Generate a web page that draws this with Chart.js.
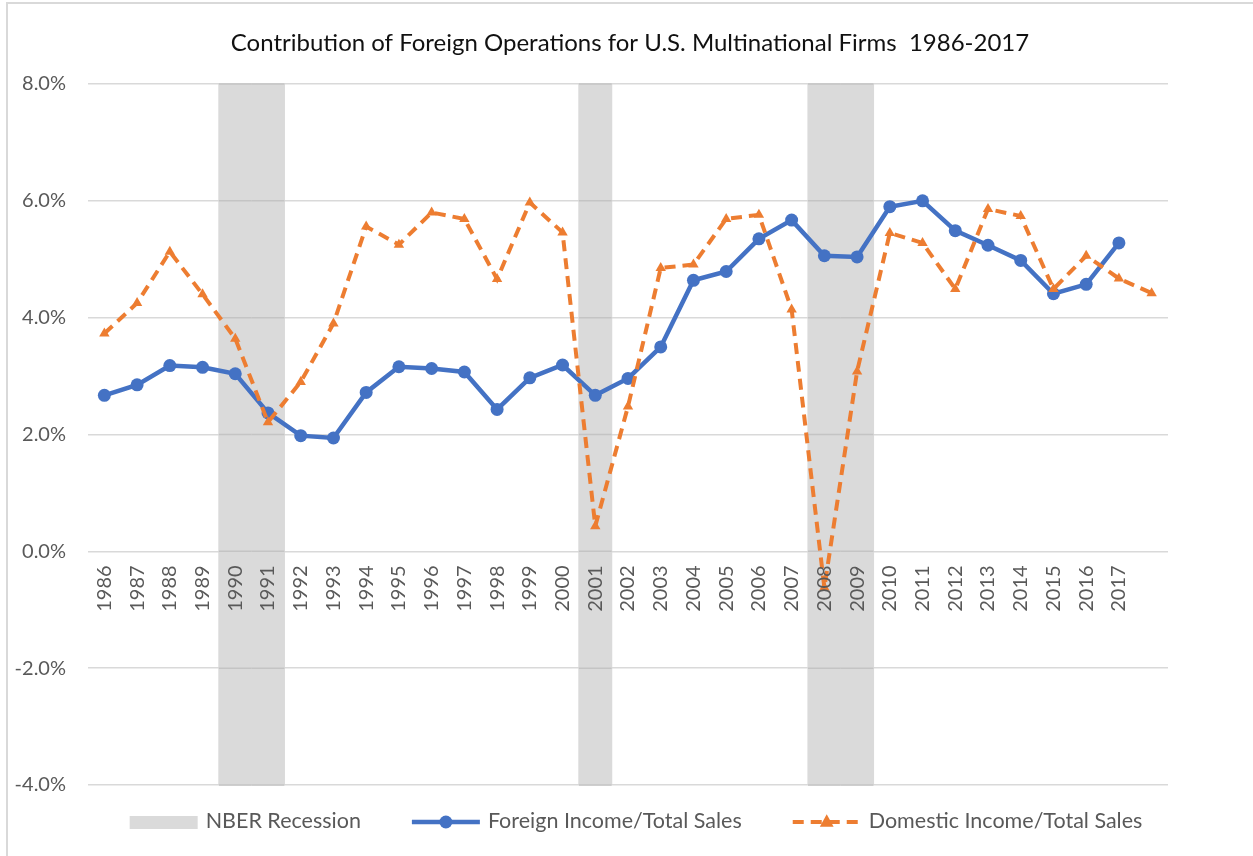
<!DOCTYPE html>
<html>
<head>
<meta charset="utf-8">
<script src="https://cdn.jsdelivr.net/npm/chart.js@4.4.1/dist/chart.umd.min.js"></script>
<style>
html,body{margin:0;padding:0;background:#fff;}
#wrap{width:1253px;height:856px;position:relative;}
canvas{display:block;}
</style>
</head>
<body>
<div id="wrap"><canvas id="c" width="1253" height="856"></canvas></div>
<script>
const chartTitle = 'Contribution of Foreign Operations for U.S. Multinational Firms  1986-2017';
const seriesNames = ['NBER Recession', 'Foreign Income/Total Sales', 'Domestic Income/Total Sales'];
const categories = ['1986','1987','1988','1989','1990','1991','1992','1993','1994','1995','1996',
  '1997','1998','1999','2000','2001','2002','2003','2004','2005','2006','2007','2008','2009',
  '2010','2011','2012','2013','2014','2015','2016','2017',''];
const recession = [0,0,0,0,1,1,0,0,0,0,0,0,0,0,0,1,0,0,0,0,0,0,1,1,0,0,0,0,0,0,0,0,0];
const foreign = [2.67,2.85,3.18,3.15,3.04,2.37,1.98,1.94,2.72,3.16,3.13,3.07,2.43,2.97,3.19,
  2.67,2.96,3.50,4.64,4.79,5.35,5.67,5.06,5.04,5.90,6.00,5.49,5.24,4.98,4.41,4.57,5.28,null];
const domestic = [3.73,4.25,5.13,4.40,3.64,2.21,2.90,3.90,5.56,5.25,5.80,5.69,4.66,5.97,5.46,
  0.43,2.48,4.85,4.91,5.69,5.76,4.14,-0.62,3.08,5.45,5.28,4.49,5.86,5.74,4.49,5.06,4.67,4.42];
const yTicks = [-4,-2,0,2,4,6,8];

const yMin = yTicks[0], yMax = yTicks[yTicks.length-1];
const recessionBars = recession.map(f => f ? [yMin, yMax] : null);

const BLUE = '#4472C4', ORANGE = '#ED7D31', GREY = '#dadada';
const FONT = 'Lato';

const decor = {
  id: 'decor',
  beforeDraw(chart) {
    const ctx = chart.ctx;
    ctx.save();
    ctx.strokeStyle = '#d9d9d9';
    ctx.lineWidth = 2;
    ctx.beginPath();
    ctx.moveTo(7, 856); ctx.lineTo(7, 3); ctx.lineTo(1253, 3);
    ctx.stroke();
    ctx.restore();
  },
  beforeDatasetDraw(chart, args) {
    if (args.index !== 1) return;
    // gridlines faintly visible through the recession shading (drawn after the bars, before the lines)
    const ctx = chart.ctx, ys = chart.scales.y, xs = chart.scales.x;
    const half = (xs.getPixelForValue(1) - xs.getPixelForValue(0)) / 2;
    ctx.save();
    ctx.strokeStyle = '#c4c4c4';
    ctx.lineWidth = 1.5;
    recession.forEach((f, i) => {
      if (!f) return;
      const cx = xs.getPixelForValue(i);
      yTicks.forEach(v => {
        const y = ys.getPixelForValue(v);
        ctx.beginPath(); ctx.moveTo(cx - half, y); ctx.lineTo(cx + half, y); ctx.stroke();
      });
    });
    ctx.restore();
  },
  afterDraw(chart) {
    const ctx = chart.ctx;
    ctx.save();
    // title
    ctx.fillStyle = '#111';
    ctx.font = '24px ' + FONT;
    ctx.textAlign = 'center';
    ctx.textBaseline = 'middle';
    ctx.fillText(chartTitle, 630, 43);
    // legend
    ctx.font = '21.5px ' + FONT;
    ctx.textAlign = 'left';
    const symW = 68, gap = 8, sep = 51;
    const ds = chart.data.datasets;
    const widths = ds.map(d => symW + gap + ctx.measureText(d.label).width);
    const total = widths.reduce((a,b)=>a+b,0) + sep*(ds.length-1);
    let x = 636 - total/2;
    const y = 821;
    ds.forEach((d, i) => {
      if (d.type === 'bar') {
        ctx.fillStyle = GREY;
        ctx.fillRect(x, y - 5, symW, 13);
      } else {
        ctx.strokeStyle = d.borderColor;
        ctx.lineWidth = d.borderWidth;
        ctx.setLineDash(d.borderDash || []);
        ctx.beginPath(); ctx.moveTo(x, y+1); ctx.lineTo(x+symW, y+1); ctx.stroke();
        ctx.setLineDash([]);
        ctx.fillStyle = d.pointBackgroundColor;
        const cx = x + symW/2, cy = y+1, r = d.pointRadius;
        ctx.beginPath();
        if (d.pointStyle === 'triangle') {
          ctx.moveTo(cx, cy - r*1.3); ctx.lineTo(cx + r*1.15, cy + r*0.8); ctx.lineTo(cx - r*1.15, cy + r*0.8); ctx.closePath();
        } else {
          ctx.arc(cx, cy, r, 0, Math.PI*2);
        }
        ctx.fill();
      }
      ctx.fillStyle = '#595959';
      ctx.fillText(d.label, x + symW + gap, y);
      x += widths[i] + sep;
    });
    ctx.restore();
  }
};

new Chart(document.getElementById('c'), {
  type: 'bar',
  data: {
    labels: categories,
    datasets: [
      {
        type: 'bar', label: seriesNames[0], data: recessionBars, order: 3,
        backgroundColor: GREY, borderWidth: 0, inflateAmount: 0.6,
        barPercentage: 1, categoryPercentage: 1
      },
      {
        type: 'line', label: seriesNames[1], data: foreign, order: 2,
        borderColor: BLUE, backgroundColor: BLUE, borderWidth: 4.5,
        pointRadius: 6.5, pointBackgroundColor: BLUE, pointBorderColor: BLUE, pointBorderWidth: 0,
        pointStyle: 'circle', tension: 0, spanGaps: false
      },
      {
        type: 'line', label: seriesNames[2], data: domestic, order: 1,
        borderColor: ORANGE, backgroundColor: ORANGE, borderWidth: 4, borderDash: [11, 7],
        pointRadius: 6, pointBackgroundColor: ORANGE, pointBorderColor: ORANGE, pointBorderWidth: 0,
        pointStyle: 'triangle', tension: 0
      }
    ]
  },
  options: {
    responsive: false,
    animation: false,
    layout: { padding: { top: 84, bottom: 71, left: 8, right: 85 } },
    plugins: {
      legend: { display: false },
      title: { display: false },
      tooltip: { enabled: false }
    },
    scales: {
      x: {
        position: { y: 0 },
        offset: true,
        grid: { display: false, drawTicks: false },
        border: { display: false },
        ticks: {
          z: 1,
          color: '#595959', font: { family: FONT, size: 20 },
          minRotation: 90, maxRotation: 90, padding: 14, autoSkip: false
        }
      },
      y: {
        min: yMin, max: yMax,
        afterFit(s) { s.width = 80; },
        afterBuildTicks(s) { s.ticks = yTicks.map(v => ({ value: v })); },
        grid: { color: '#d9d9d9', lineWidth: 1.5, drawTicks: false },
        border: { display: false },
        ticks: {
          color: '#595959', font: { family: FONT, size: 20 }, padding: 22,
          callback: v => v.toFixed(1) + '%'
        }
      }
    }
  },
  plugins: [decor]
});
</script>
</body>
</html>
